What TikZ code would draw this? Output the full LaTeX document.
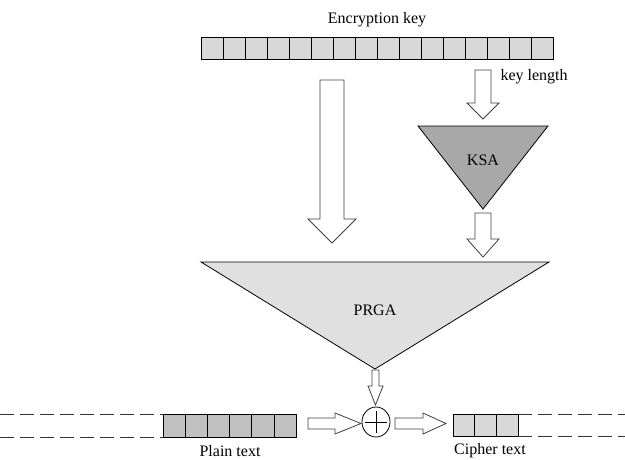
\documentclass[tikz,border=0pt]{standalone}
\usepackage{fontspec}
\setmainfont{Liberation Serif}
\usetikzlibrary{shapes}

\definecolor{keygray}{RGB}{216,216,216}
\definecolor{ksagray}{RGB}{168,168,168}
\definecolor{prgagray}{RGB}{224,224,224}
\definecolor{plaingray}{RGB}{192,192,192}

\tikzset{
 cell/.style={draw,fill=#1,line width=0.9pt},
 blockarrow/.style={draw=black!75,fill=white,line width=0.8pt},
 tri/.style={draw,fill=#1,line width=0.8pt,line join=miter},
 stream/.style={black!80,line width=0.8pt,dash pattern=on 14pt off 6pt},
}

% down block arrow: x, top, head base, tip, half shaft, half head
\newcommand{\downblk}[6]{%
 \draw[blockarrow] ({#1-#5},#2)--({#1+#5},#2)--({#1+#5},#3)--({#1+#6},#3)
  --(#1,#4)--({#1-#6},#3)--({#1-#5},#3)--cycle;}
% right block arrow: y, left, head base, tip, half shaft, half head
\newcommand{\rightblk}[6]{%
 \draw[blockarrow] (#2,{#1-#5})--(#2,{#1+#5})--(#3,{#1+#5})--(#3,{#1+#6})
  --(#4,#1)--(#3,{#1-#6})--(#3,{#1-#5})--cycle;}

\begin{document}
\begin{tikzpicture}[x=1pt,y=-1pt,font=\fontsize{16}{18}\selectfont]
\useasboundingbox (0,0) rectangle (625,459);

% key
\node (enckey) at (377,20) {Encryption key};
\foreach \i in {0,...,15}
 \draw[cell=keygray] ({201+22*\i},37) rectangle +(22,22);
\node[anchor=west] (keylen) at (497,77) {key length};

\downblk{483}{70}{103}{119}{8}{16}
\downblk{332}{80}{219}{243}{12}{24}

% KSA
\draw[tri=ksagray] (418,126)--(548,126)--(483,209)--cycle;
\node (ksa) at (483,160) {KSA};
\downblk{483}{213}{239}{257}{8}{16}

% PRGA
\draw[tri=prgagray] (201,262)--(549,262)--(375,369)--cycle;
\node (prga) at (375,310) {PRGA};
\downblk{375.5}{370}{386}{405}{3.5}{7.5}

% xor
\node[draw,ellipse,line width=0.8pt,minimum width=28pt,minimum height=30pt,inner sep=0pt] (xor) at (376,422) {};
\draw[line width=0.8pt] (xor.north) ++(0,4) -- ++(0,22)
 (xor.west) ++(3,0) -- ++(22,0);

% plain text
\draw[stream] (0,414)--(163,414) (0,437)--(163,437);
\foreach \i in {0,...,5}
 \draw[cell=plaingray] ({163+22.2*\i},414) rectangle +(22.2,23);
\node (plain) at (230,451) {Plain text};
\rightblk{423.5}{308}{335}{361}{5.5}{10.5}

% cipher text
\rightblk{423.5}{395}{423}{446}{5.5}{10.5}
\foreach \i in {0,...,2}
 \draw[cell=keygray] ({453+21.7*\i},414) rectangle +(21.7,22);
\draw[stream] (518,414)--(625,414) (518,436)--(625,436);
\node (cipher) at (490,451) {Cipher text};
\end{tikzpicture}
\end{document}
